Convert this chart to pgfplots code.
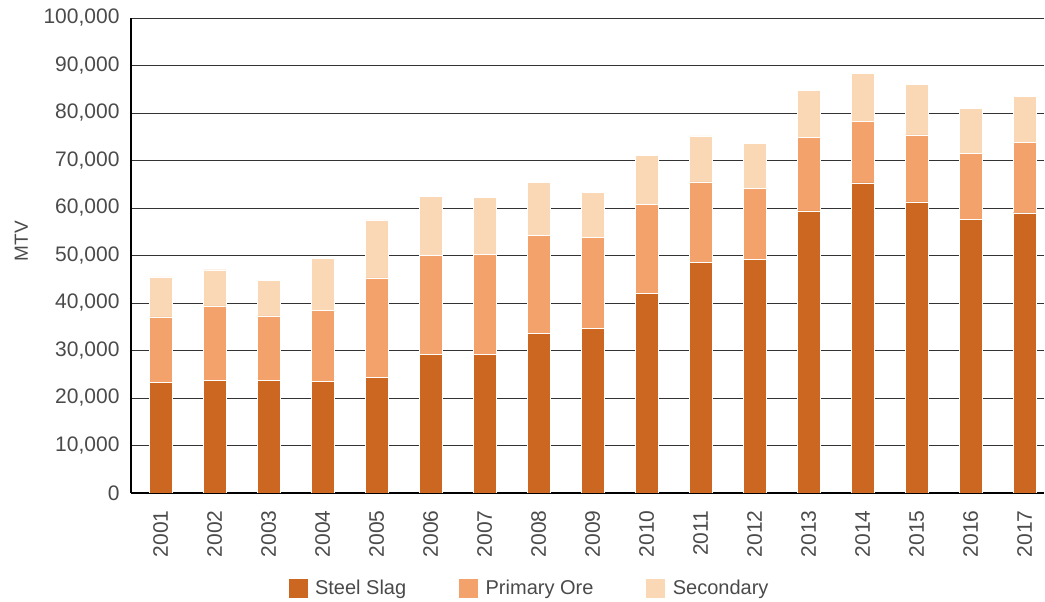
\documentclass[border=0pt]{standalone}
\usepackage{pgfplots}
\pgfplotsset{compat=1.18}
\usepackage{pgfplotstable}
\usepackage{fontspec}
\setmainfont{Liberation Sans}
\definecolor{steel}{HTML}{CC6722}
\definecolor{primary}{HTML}{F2A26A}
\definecolor{second}{HTML}{FAD8B6}
\definecolor{txt}{HTML}{4A4A4A}
\pgfplotstableread{
x year steel primary secondary
0 2001 23.3 13.8 8.4
1 2002 23.7 15.7 7.6
2 2003 23.7 13.6 7.5
3 2004 23.5 14.9 11.0
4 2005 24.4 20.9 12.2
5 2006 29.2 20.9 12.3
6 2007 29.2 21.1 11.9
7 2008 33.6 20.7 11.1
8 2009 34.7 19.1 9.5
9 2010 42.1 18.7 10.3
10 2011 48.5 17.0 9.7
11 2012 49.2 15.0 9.4
12 2013 59.4 15.5 9.9
13 2014 65.3 12.9 10.2
14 2015 61.3 14.1 10.6
15 2016 57.6 13.9 9.5
16 2017 59.0 14.8 9.7
}\datatable
\begin{document}
\begin{tikzpicture}
\path[use as bounding box] (-131pt,-109pt) rectangle (914pt,493pt);
\begin{axis}[
  at={(0pt,0pt)}, anchor=south west,
  scale only axis, width=913pt, height=475pt,
  ybar stacked, bar width=22.7pt,
  xmin=-0.55, xmax=16.36, ymin=0, ymax=100000,
  xtick=data, xticklabels={2001,2002,2003,2004,2005,2006,2007,2008,2009,2010,2011,2012,2013,2014,2015,2016,2017},
  ytick={0,10000,...,100000},
  scaled y ticks=false,
  yticklabel={\pgfmathprintnumber[fixed, precision=0, 1000 sep={,}, assume math mode=true]{\tick}},
  axis x line*=bottom, axis y line*=left,
  axis line style={black, line width=2.2pt},
  major tick length=0pt,
  ymajorgrids, major grid style={black!80, line width=0.9pt},
  tick label style={font=\fontsize{21}{25}\selectfont, text=txt},
  xticklabel style={rotate=90, anchor=east, xshift=-14pt},
  yticklabel style={xshift=-8pt},
  ylabel={MTV},
  ylabel style={at={(axis description cs:-0.12,0.53)}, anchor=center, font=\fontsize{19}{22}\selectfont, text=txt},
  legend columns=3,
  legend style={at={(axis description cs:0.436,-0.2)}, anchor=center, draw=none, fill=none,
     font=\fontsize{20}{24}\selectfont, text=txt,
     /tikz/every odd column/.append style={column sep=5pt},
     /tikz/every even column/.append style={column sep=50pt}},
  legend image code/.code={\fill[#1] (0pt,-10pt) rectangle (20pt,10pt);},
]
\addplot[fill=steel, draw=white, line width=0.4pt] table[x=x, y expr=\thisrow{steel}*1000] {\datatable};
\addplot[fill=primary, draw=white, line width=0.4pt] table[x=x, y expr=\thisrow{primary}*1000] {\datatable};
\addplot[fill=second, draw=white, line width=0.4pt] table[x=x, y expr=\thisrow{secondary}*1000] {\datatable};
\legend{Steel Slag, Primary Ore, Secondary}
\end{axis}
\end{tikzpicture}
\end{document}
